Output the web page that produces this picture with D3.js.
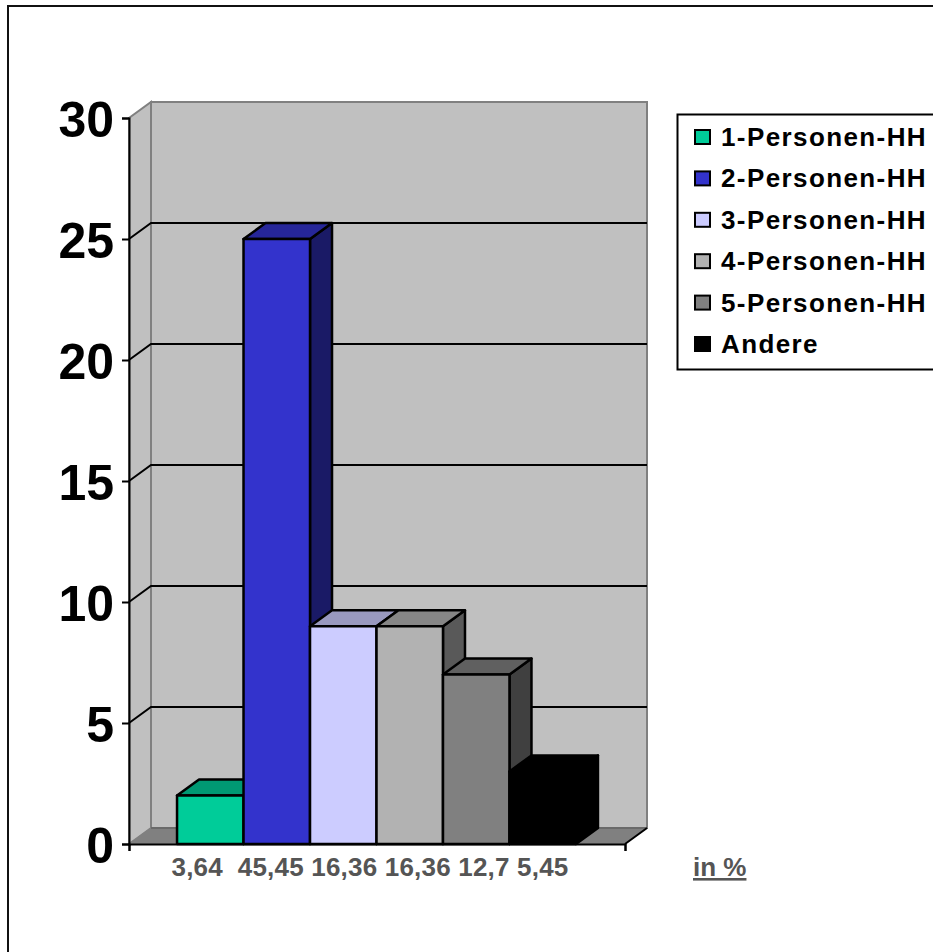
<!DOCTYPE html>
<html><head><meta charset="utf-8">
<script src="https://cdn.jsdelivr.net/npm/d3@7"></script>
<style>html,body{margin:0;padding:0;background:#fff;overflow:hidden}svg{display:block;font-family:"Liberation Sans",Arial,sans-serif;font-weight:bold}</style>
</head><body><svg id="c" width="933" height="952"></svg>
<script>
const series=["1-Personen-HH","2-Personen-HH","3-Personen-HH","4-Personen-HH","5-Personen-HH","Andere"];
const values=[2,25,9,9,7,3];
const colors=["#00CC99","#3333CC","#CCCCFF","#B2B2B2","#808080","#000000"];
const pctLabels=["3,64","","45,45","16,36","16,36","12,7","5,45"];
const yTicks=[0,5,10,15,20,25,30];
const unitLabel="in %";

const svg=d3.select("#c");
const L=129,R=625,B=844,T=118,dx=22,dy=-16;
const x=d3.scaleBand().domain(series).range([L-0.5,R-0.5]).paddingInner(0).paddingOuter(0.73);
const y=d3.scaleLinear().domain([0,30]).range([B,T]);
const poly=pts=>pts.map(p=>p.join(",")).join(" ");

svg.append("rect").attr("x",8).attr("y",6).attr("width",1000).attr("height",1000).attr("fill","#fff").attr("stroke","#111").attr("stroke-width",2);

// walls
svg.append("polygon").attr("points",poly([[L,y(0)],[L+dx,y(0)+dy],[L+dx,y(30)+dy],[L,y(30)]])).attr("fill","#C0C0C0").attr("stroke","#808080").attr("stroke-width",2);
svg.append("polygon").attr("points",poly([[L+dx,y(0)+dy],[R+dx,y(0)+dy],[R+dx,y(30)+dy],[L+dx,y(30)+dy]])).attr("fill","#C0C0C0").attr("stroke","#808080").attr("stroke-width",2);
svg.append("polygon").attr("points",poly([[L,y(0)],[R,y(0)],[R+dx,y(0)+dy],[L+dx,y(0)+dy]])).attr("fill","#808080").attr("stroke","#808080");
svg.append("line").attr("x1",L+dx).attr("x2",R+dx).attr("y1",y(0)+dy).attr("y2",y(0)+dy).attr("stroke","#555").attr("stroke-width",1);
svg.append("line").attr("x1",R).attr("x2",R+dx).attr("y1",y(0)).attr("y2",y(0)+dy).attr("stroke","#000").attr("stroke-width",2);

// gridlines
yTicks.filter(t=>t>0&&t<30).forEach(t=>{
  svg.append("polyline").attr("points",poly([[L,y(t)],[L+dx,y(t)+dy],[R+dx,y(t)+dy]])).attr("fill","none").attr("stroke","#000").attr("stroke-width",2);
});

// bars
const w=x.bandwidth();
series.forEach((s,i)=>{
  const x0=x(s),x1=x0+w,yt=y(values[i]),yb=y(0),c=d3.color(colors[i]);
  const g=svg.append("g").attr("stroke","#000").attr("stroke-width",2.5).attr("stroke-linejoin","round");
  const shade=k=>d3.rgb(c.r*k,c.g*k,c.b*k).formatHex();
  g.append("polygon").attr("points",poly([[x1,yt],[x1+dx,yt+dy],[x1+dx,yb+dy],[x1,yb]])).attr("fill",shade(.5));
  g.append("polygon").attr("points",poly([[x0,yt],[x1,yt],[x1+dx,yt+dy],[x0+dx,yt+dy]])).attr("fill",shade(.75));
  g.append("rect").attr("x",x0).attr("y",yt).attr("width",w).attr("height",yb-yt).attr("fill",colors[i]);
});

// axes
const ay=svg.append("g").attr("transform",`translate(${L},0)`).call(d3.axisLeft(y).tickValues(yTicks).tickSize(7).tickPadding(0));
ay.select(".domain").attr("stroke-width",2);
ay.selectAll(".tick line").attr("stroke-width",2);
ay.selectAll(".tick text").attr("font-family",'"Liberation Sans",Arial,sans-serif').attr("font-size",50).attr("font-weight","bold").attr("fill","#000")
  .attr("text-anchor","end").attr("dy","0.36em").attr("transform","translate(-8,0.5)");
const ax=svg.append("g").attr("transform",`translate(0,${B})`).call(d3.axisBottom(d3.scaleLinear().domain([L,R]).range([L,R])).tickValues([L,R]).tickSize(7).tickFormat(""));
ax.select(".domain").attr("stroke-width",2);
ax.selectAll(".tick line").attr("stroke-width",2);

// category label (single string)
svg.append("text").attr("x",370).attr("y",876).attr("text-anchor","middle").style("white-space","pre")
  .attr("font-size",26).attr("letter-spacing",0.2).attr("fill","#555").text(pctLabels.join(" "));
svg.append("text").attr("x",693).attr("y",876).attr("font-size",26).attr("fill","#555").attr("text-decoration","underline").text(unitLabel);

// legend
svg.append("rect").attr("x",677.5).attr("y",114.5).attr("width",400).attr("height",255).attr("fill","#fff").attr("stroke","#000").attr("stroke-width",2);
const ly=d3.scalePoint().domain(series).range([137,344]);
series.forEach((s,i)=>{
  svg.append("rect").attr("x",695).attr("y",ly(s)-7).attr("width",15).attr("height",14).attr("fill",colors[i]).attr("stroke","#000").attr("stroke-width",2);
  svg.append("text").attr("x",721).attr("y",ly(s)+9).attr("font-size",26).attr("letter-spacing",1.4).attr("fill","#000").text(s);
});
</script></body></html>
